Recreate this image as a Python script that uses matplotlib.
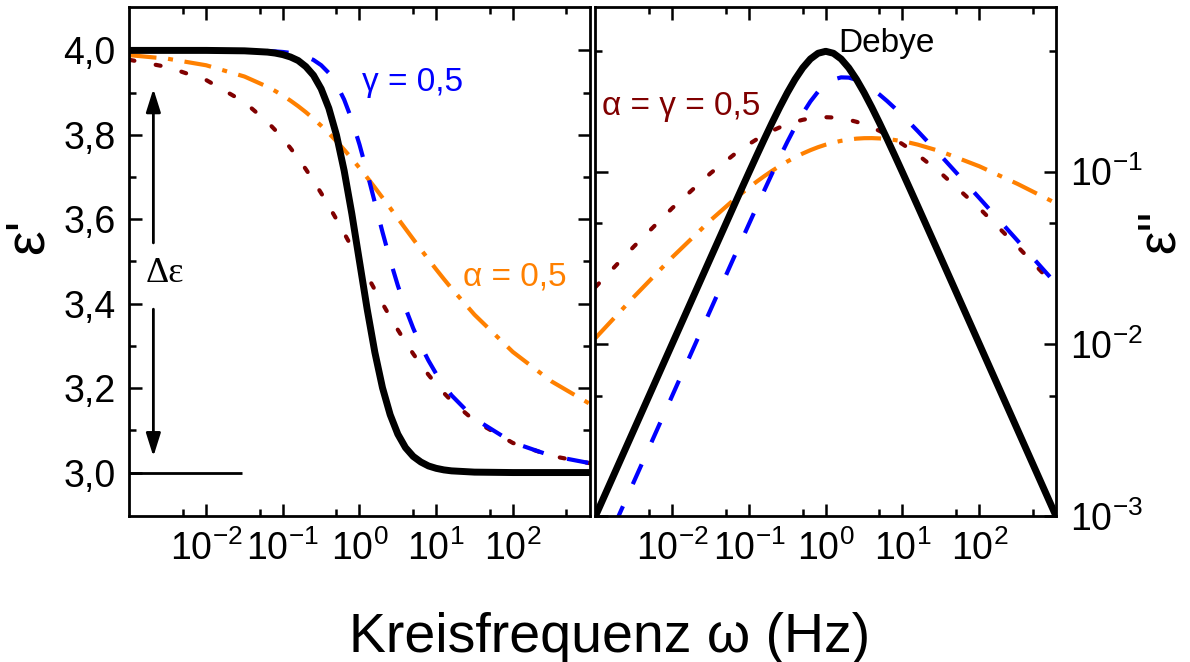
import matplotlib
matplotlib.use("Agg")
import matplotlib.pyplot as plt
from matplotlib.ticker import FixedLocator, FixedFormatter, NullFormatter

plt.rcParams['font.family'] = ['Liberation Sans', 'DejaVu Sans']
plt.rcParams['mathtext.fontset'] = 'custom'
plt.rcParams['mathtext.rm'] = 'Liberation Sans'
plt.rcParams['mathtext.default'] = 'regular'

# angular frequency
omega = [1e-3, 3.162e-3, 1e-2, 3.162e-2, 0.0631,
         0.07943, 0.1, 0.1259, 0.1585, 0.1995, 0.2512, 0.3162, 0.3981, 0.5012, 0.631, 0.7943,
         1.0,
         1.259, 1.585, 1.995, 2.512, 3.162, 3.981, 5.012, 6.31, 7.943, 10.0, 12.59, 15.85,
         31.62, 100.0, 316.2, 1000.0]

# real part eps'
eps1_debye = [4.000, 4.000, 4.000, 3.999, 3.996,
              3.9937, 3.990, 3.9844, 3.976, 3.9617, 3.941, 3.9091, 3.863, 3.7992, 3.715, 3.6131,
              3.500,
              3.3869, 3.285, 3.2008, 3.137, 3.0909, 3.059, 3.0383, 3.025, 3.0156, 3.010, 3.0063, 3.004,
              3.001, 3.000, 3.000, 3.000]
eps1_gamma = [4.000, 4.000, 4.000, 3.9996, 3.9985,
              3.9976, 3.9963, 3.9941, 3.9907, 3.9855, 3.9774, 3.9650, 3.9466, 3.9201, 3.8834, 3.8355,
              3.7769,
              3.7103, 3.6397, 3.5695, 3.5033, 3.4430, 3.3893, 3.3420, 3.3008, 3.2651, 3.2339, 3.2067, 3.1830,
              3.1277, 3.0711, 3.0398, 3.0224]
eps1_alpha = [3.9888, 3.9802, 3.9648, 3.9381, 3.9138,
              3.9039, 3.8930, 3.8810, 3.8679, 3.8537, 3.8382, 3.8216, 3.8038, 3.7848, 3.7647, 3.7436,
              3.7215,
              3.6987, 3.6752, 3.6511, 3.6267, 3.6021, 3.5775, 3.5530, 3.5287, 3.5048, 3.4813, 3.4585, 3.4363,
              3.3739, 3.2857, 3.2164, 3.1632]
eps1_alphagamma = [3.9777, 3.9604, 3.9299, 3.8774, 3.8303,
                   3.8114, 3.7908, 3.7685, 3.7444, 3.7186, 3.6910, 3.6619, 3.6314, 3.5997, 3.5670, 3.5337,
                   3.5000,
                   3.4663, 3.4330, 3.4003, 3.3686, 3.3381, 3.3090, 3.2814, 3.2556, 3.2315, 3.2092, 3.1886, 3.1697,
                   3.1226, 3.0701, 3.0396, 3.0223]

# imaginary part eps''
eps2_debye = [0.001, 0.003162, 0.01, 0.03159, 0.06285,
              0.07893, 0.0990, 0.12393, 0.1546, 0.19189, 0.2363, 0.28748, 0.3436, 0.40057, 0.4513, 0.48703,
              0.5,
              0.48703, 0.4513, 0.40057, 0.3436, 0.28748, 0.2363, 0.19189, 0.1546, 0.12393, 0.0990, 0.07893, 0.06285,
              0.03159, 0.01, 0.003162, 0.001]
eps2_gamma = [0.0005, 0.001581, 0.005, 0.0158, 0.03147,
              0.03956, 0.04969, 0.06233, 0.07803, 0.09736, 0.1209, 0.1490, 0.1816, 0.2177, 0.2555, 0.2916,
              0.3218,
              0.3428, 0.3528, 0.3517, 0.3414, 0.3245, 0.3035, 0.2805, 0.2570, 0.2338, 0.2116, 0.1909, 0.1717,
              0.1237, 0.07035, 0.0397, 0.02235]
eps2_alpha = [0.01081, 0.01874, 0.03183, 0.05223, 0.06853,
              0.07459, 0.08093, 0.08748, 0.0942, 0.10102, 0.1079, 0.11459, 0.1212, 0.12743, 0.1333, 0.13872,
              0.1435,
              0.14761, 0.1510, 0.15362, 0.1555, 0.15644, 0.1566, 0.15596, 0.1547, 0.15265, 0.1501, 0.14704, 0.1435,
              0.1310, 0.1075, 0.08485, 0.06553]
eps2_alphagamma = [0.02138, 0.03673, 0.06141, 0.0980, 0.1252,
                   0.13484, 0.1445, 0.15414, 0.1635, 0.17248, 0.1808, 0.18832, 0.1948, 0.20005, 0.2039, 0.20631,
                   0.2071,
                   0.20631, 0.2039, 0.20005, 0.1948, 0.18832, 0.1808, 0.17248, 0.1635, 0.15414, 0.1445, 0.13484, 0.1252,
                   0.0980, 0.06141, 0.03673, 0.02138]

x_ticks = [1e-2, 1e-1, 1e0, 1e1, 1e2]
x_ticklabels = ['$10^{-2}$', '$10^{-1}$', '$10^{0}$', '$10^{1}$', '$10^{2}$']
x_minor = [5e-3, 5e-2, 5e-1, 5e0, 5e1, 5e2]
y1_ticks = [3.0, 3.2, 3.4, 3.6, 3.8, 4.0]
y1_ticklabels = ['3,0', '3,2', '3,4', '3,6', '3,8', '4,0']
y1_minor = [3.1, 3.3, 3.5, 3.7, 3.9]
y2_ticks = [1e-3, 1e-2, 1e-1]
y2_ticklabels = ['$10^{-3}$', '$10^{-2}$', '$10^{-1}$']
y2_minor = [5e-3, 5e-2, 5e-1]

c_gamma = '#0000ff'
c_alpha = '#ff8000'
c_ag = '#800000'

fig = plt.figure(figsize=(11.9, 6.62), dpi=100)
ax1 = fig.add_axes([0.1088, 0.2205, 0.3866, 0.7684])
ax2 = fig.add_axes([0.5004, 0.2205, 0.3870, 0.7684])

# left panel: eps'
ax1.plot(omega, eps1_alphagamma, color=c_ag, lw=3, dashes=(1.2, 5.2), dash_capstyle='round')
ax1.plot(omega, eps1_alpha, color=c_alpha, lw=3, dashes=(6.5, 2.8, 1.2, 2.8))
ax1.plot(omega, eps1_gamma, color=c_gamma, lw=3, dashes=(5.2, 5.8))
ax1.plot(omega, eps1_debye, color='black', lw=5, solid_joinstyle='round')

# right panel: eps''
ax2.plot(omega, eps2_alphagamma, color=c_ag, lw=3, dashes=(1.2, 5.2), dash_capstyle='round')
ax2.plot(omega, eps2_alpha, color=c_alpha, lw=3, dashes=(6.5, 2.8, 1.2, 2.8))
ax2.plot(omega, eps2_gamma, color=c_gamma, lw=3, dashes=(5.2, 5.8))
ax2.plot(omega, eps2_debye, color='black', lw=5, solid_joinstyle='round')

for ax in (ax1, ax2):
    ax.set_xscale('log')
    ax.set_xlim(1e-3, 1e3)
    ax.xaxis.set_major_locator(FixedLocator(x_ticks))
    ax.xaxis.set_major_formatter(FixedFormatter(x_ticklabels))
    ax.xaxis.set_minor_locator(FixedLocator(x_minor))
    ax.xaxis.set_minor_formatter(NullFormatter())
    ax.tick_params(which='both', direction='in', top=True, right=True, width=1.8)
    ax.tick_params(which='major', length=9, labelsize=27, pad=10)
    ax.tick_params(which='minor', length=5)
    for s in ax.spines.values():
        s.set_linewidth(2)

ax1.set_ylim(2.897, 4.102)
ax1.yaxis.set_major_locator(FixedLocator(y1_ticks))
ax1.yaxis.set_major_formatter(FixedFormatter(y1_ticklabels))
ax1.yaxis.set_minor_locator(FixedLocator(y1_minor))
ax1.set_ylabel("ε'", fontsize=40)
ax1.yaxis.set_label_coords(-0.162, 0.55)

ax2.set_yscale('log')
ax2.set_ylim(1e-3, 0.9)
ax2.yaxis.set_major_locator(FixedLocator(y2_ticks))
ax2.yaxis.set_major_formatter(FixedFormatter(y2_ticklabels))
ax2.yaxis.set_minor_locator(FixedLocator(y2_minor))
ax2.yaxis.set_minor_formatter(NullFormatter())
ax2.tick_params(axis='y', which='both', labelleft=False, labelright=True)
ax2.yaxis.set_label_position('right')
ax2.set_ylabel("ε''", fontsize=38, rotation=90)
ax2.yaxis.set_label_coords(1.17, 0.56)

# annotations, left panel
head = '-|>,head_length=0.7,head_width=0.22'
ax1.annotate('', xy=(2.05e-3, 3.909), xytext=(2.05e-3, 3.544),
             arrowprops=dict(arrowstyle=head, color='black', lw=2, mutation_scale=20,
                             shrinkA=0, shrinkB=0))
ax1.annotate('', xy=(2.05e-3, 3.038), xytext=(2.05e-3, 3.387),
             arrowprops=dict(arrowstyle=head, color='black', lw=2, mutation_scale=20,
                             shrinkA=0, shrinkB=0))
ax1.text(1.63e-3, 3.472, 'Δε', fontsize=26, family=['Liberation Serif', 'DejaVu Serif'],
         ha='left', va='center')
ax1.hlines(3.0, 1e-3, 0.029, color='black', lw=2)
ax1.text(1.07, 3.905, 'γ = 0,5', color=c_gamma, fontsize=24, ha='left', va='baseline')
ax1.text(22.6, 3.442, 'α = 0,5', color=c_alpha, fontsize=24, ha='left', va='baseline')

# annotations, right panel
ax2.text(1.46, 0.497, 'Debye', color='black', fontsize=24, ha='left', va='baseline')
ax2.text(1.2e-3, 0.213, 'α = γ = 0,5', color=c_ag, fontsize=24, ha='left', va='baseline')

fig.text(610 / 1190, 1 - 652 / 662, 'Kreisfrequenz ω (Hz)', fontsize=40,
         ha='center', va='baseline')

fig.savefig('out.png', dpi=100)
